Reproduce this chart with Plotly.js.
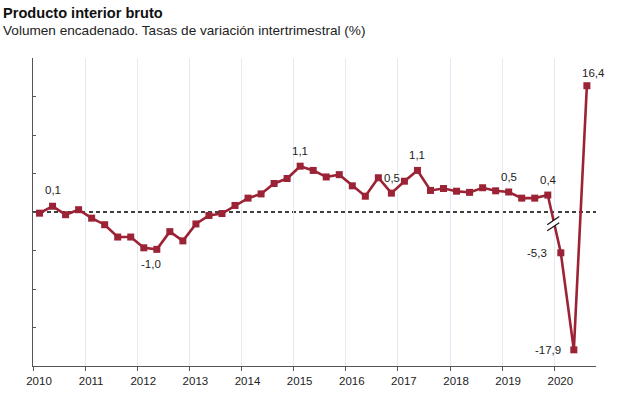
<!DOCTYPE html>
<html>
<head>
<meta charset="utf-8">
<script src="https://cdn.plot.ly/plotly-3.0.1.min.js"></script>
<style>
  html, body { margin: 0; padding: 0; background: #fff; }
  #chart { width: 643px; height: 397px; }
</style>
</head>
<body>
<div id="chart"></div>
<script>
// Quarterly periods (year, quarter)
const periods = [
  '2010T1','2010T2','2010T3','2010T4',
  '2011T1','2011T2','2011T3','2011T4',
  '2012T1','2012T2','2012T3','2012T4',
  '2013T1','2013T2','2013T3','2013T4',
  '2014T1','2014T2','2014T3','2014T4',
  '2015T1','2015T2','2015T3','2015T4',
  '2016T1','2016T2','2016T3','2016T4',
  '2017T1','2017T2','2017T3','2017T4',
  '2018T1','2018T2','2018T3','2018T4',
  '2019T1','2019T2','2019T3','2019T4',
  '2020T1','2020T2','2020T3'
];

// Quarter-on-quarter GDP growth (%)
const growth = [
  -0.03, 0.15, -0.07, 0.06,
  -0.16, -0.33, -0.65, -0.65,
  -0.93, -0.97, -0.51, -0.75,
  -0.31, -0.09, -0.04, 0.17,
  0.36, 0.47, 0.74, 0.87,
  1.19, 1.08, 0.91, 0.97,
  0.68, 0.41, 0.89, 0.49,
  0.80, 1.08, 0.56, 0.61,
  0.54, 0.51, 0.63, 0.55,
  0.52, 0.36, 0.36, 0.44,
  -5.3, -17.9, 16.4
];

// Labelled points
const labelPeriods = ['2010T2','2012T2','2015T1','2016T4','2017T2','2019T1','2019T4','2020T1','2020T2','2020T3'];
const labelTexts   = ['0,1','-1,0','1,1','0,5','1,1','0,5','0,4','-5,3','-17,9','16,4'];

// X axis tick labels (years)
const yearTicks = [2010,2011,2012,2013,2014,2015,2016,2017,2018,2019,2020];

// Broken axis: values beyond the break are drawn at 1/5 scale
const BREAK_LIMIT = 3;
const BREAK_FACTOR = 5;
const toAxis = v => Math.abs(v) > BREAK_LIMIT ? v / BREAK_FACTOR : v;
const periodX = p => parseInt(p.slice(0,4),10) + (parseInt(p.slice(5),10) - 0.5) / 4;

const xs = periods.map(periodX);
const ys = growth.map(toAxis);

const RED = '#9b2335';
const FONT = 'Liberation Sans, Arial, sans-serif';

// label offsets (px) — styling only
const labelShift = {
  '2010T2': {xs: 0, ys: 16},
  '2012T2': {xs: -6, ys: -15},
  '2015T1': {xs: 0, ys: 15},
  '2016T4': {xs: 1, ys: 15},
  '2017T2': {xs: 0, ys: 15},
  '2019T1': {xs: 0, ys: 15},
  '2019T4': {xs: 1, ys: 15},
  '2020T1': {xs: -24, ys: 0},
  '2020T2': {xs: -26, ys: 0},
  '2020T3': {xs: 7, ys: 13}
};

const annotations = labelPeriods.map((p, k) => {
  const i = periods.indexOf(p);
  const s = labelShift[p] || {xs:0, ys:0};
  return {
    x: xs[i], y: ys[i], xref: 'x', yref: 'y',
    text: labelTexts[k], showarrow: false,
    xanchor: 'center', yanchor: 'middle',
    xshift: s.xs, yshift: s.ys,
    font: {family: FONT, size: 11.5, color: '#222'}
  };
});

// Title & subtitle
annotations.push({
  xref: 'paper', yref: 'paper', x: 0, y: 1, xanchor: 'left', yanchor: 'bottom',
  xshift: -32, yshift: 35,
  text: '<b>Producto interior bruto</b>', showarrow: false, align: 'left',
  font: {family: FONT, size: 14.6, color: '#111'}
});
annotations.push({
  xref: 'paper', yref: 'paper', x: 0, y: 1, xanchor: 'left', yanchor: 'bottom',
  xshift: -32, yshift: 18,
  text: 'Volumen encadenado. Tasas de variación intertrimestral (%)', showarrow: false, align: 'left',
  font: {family: FONT, size: 13.6, color: '#222'}
});

// Break marks between 2019T4 and 2020T1
const iA = periods.indexOf('2019T4');
const bx0 = xs[iA] - 0.01, bx1 = xs[iA] + 0.22;
const shapes = [
  {type: 'line', xref: 'paper', yref: 'y', x0: 0, x1: 1, y0: 0, y1: 0,
   line: {color: '#000', width: 1.3, dash: '4px,3px'}, layer: 'below'},
  {type: 'path', xref: 'x', yref: 'y',
   path: `M ${bx0} -0.33 L ${bx1} -0.12 L ${bx1} -0.28 L ${bx0} -0.49 Z`,
   fillcolor: '#fff', line: {width: 0}, layer: 'above'},
  {type: 'line', xref: 'x', yref: 'y', x0: bx0, y0: -0.33, x1: bx1, y1: -0.12,
   line: {color: '#111', width: 1.2}, layer: 'above'},
  {type: 'line', xref: 'x', yref: 'y', x0: bx0, y0: -0.49, x1: bx1, y1: -0.28,
   line: {color: '#111', width: 1.2}, layer: 'above'}
];

const trace = {
  x: xs, y: ys, type: 'scatter', mode: 'lines+markers',
  line: {color: RED, width: 2.6},
  marker: {symbol: 'square', size: 7, color: RED},
  hoverinfo: 'skip', cliponaxis: false
};

const layout = {
  width: 643, height: 397,
  margin: {l: 33, r: 47, t: 58, b: 31, pad: 0},
  paper_bgcolor: '#fff', plot_bgcolor: '#fff',
  showlegend: false,
  font: {family: FONT, size: 11, color: '#333'},
  xaxis: {
    range: [2010, 2020.8],
    tickmode: 'array', tickvals: yearTicks, ticktext: yearTicks.map(String),
    ticks: 'outside', ticklen: 4, tickcolor: '#555', tickwidth: 1,
    showline: true, linecolor: '#555', linewidth: 1,
    showgrid: true, gridcolor: '#e3ebf7', gridwidth: 1,
    zeroline: false,
    ticklabelshift: 6,
    tickfont: {family: FONT, size: 11.5, color: '#222'},
    fixedrange: true
  },
  yaxis: {
    range: [-4, 4], dtick: 1, tick0: 0,
    showticklabels: false,
    ticks: 'inside', ticklen: 3, tickcolor: '#555',
    showline: true, linecolor: '#555', linewidth: 1,
    showgrid: false, zeroline: false,
    fixedrange: true
  },
  shapes: shapes,
  annotations: annotations
};

Plotly.newPlot('chart', [trace], layout, {displayModeBar: false, staticPlot: true});
</script>
</body>
</html>
